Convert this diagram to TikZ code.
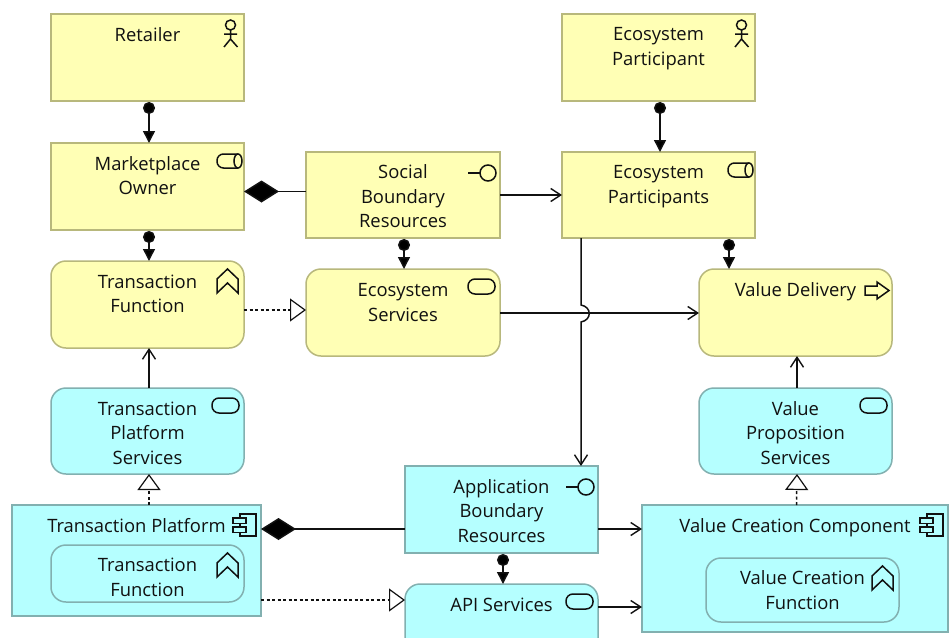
\documentclass[tikz,border=0pt]{standalone}
\usepackage{fontspec}
\setmainfont{Open Sans}
\usetikzlibrary{arrows.meta}
\definecolor{yfill}{HTML}{FFFFB5}
\definecolor{yline}{HTML}{B8B87C}
\definecolor{cfill}{HTML}{B5FFFF}
\definecolor{cline}{HTML}{82B0B0}
\definecolor{ink}{HTML}{111111}
\newcommand{\boxtxt}[4][14]{\begin{minipage}[c][#3pt][t]{#2pt}\vspace{#1pt}\centering\fontsize{18.4}{24.5}\selectfont #4\end{minipage}}
\newcommand{\elem}[8][13.5]{% top pad, style, name, x1,y1,x2,y2, text
  \pgfmathsetmacro{\cxx}{(#4+#6)/2}\pgfmathsetmacro{\cyy}{(#5+#7)/2}
  \pgfmathsetmacro{\www}{#6-#4}\pgfmathsetmacro{\hhh}{#7-#5}
  \node[#2] (#3) at (\cxx,\cyy) {\boxtxt[#1]{\www}{\hhh}{#8}};}
\tikzset{
  x=1pt,y=-1pt,
  base/.style={draw,line width=1.5pt,inner sep=0pt,outer sep=0pt,text=ink},
  ybox/.style={base,fill=yfill,draw=yline},
  yround/.style={ybox,rounded corners=15pt},
  cbox/.style={base,fill=cfill,draw=cline},
  cround/.style={cbox,rounded corners=15pt},
  conn/.style={draw=ink,line width=1.5pt},
  assign/.style={conn,{Circle[length=12pt,fill=black]}-{Triangle[length=12pt,width=12pt,fill=black]},shorten <=1pt},
  flow/.style={conn,-{Straight Barb[length=10pt,width=13pt,line width=1.4pt]}},
  compose/.style={conn,{Diamond[length=35pt,width=22pt,fill=black]}-},
  realize/.style={conn,dash pattern=on 3pt off 2.5pt,-{Triangle[open,fill=white,length=16pt,width=23pt,line width=1.2pt,sep=0pt]}},
  icon/.style={draw=ink,line width=1.5pt,line join=miter,fill=none},
  actoricon/.pic={
    \draw[icon] (-13.5,11) circle (5);
    \draw[icon] (-13.5,16)--(-13.5,25) (-20,20)--(-7,20) (-20,33)--(-13.5,25)--(-6.5,33);},
  roleicon/.pic={
    \draw[icon,rounded corners=6.5pt] (-6,11)--(-27,11)--(-27,25)--(-6,25);
    \draw[icon] (-6,18) ellipse (4 and 7);},
  ifaceicon/.pic={
    \draw[icon] (-12,21) circle (8);
    \draw[icon] (-32,21)--(-20,21);},
  serviceicon/.pic={
    \draw[icon,rounded corners=7pt] (-32,10) rectangle (-5,25);},
  funcicon/.pic={
    \draw[icon] (-27,18)--(-16.5,8)--(-6,18)--(-6,32)--(-16.5,22)--(-27,32)--cycle;},
  processicon/.pic={
    \draw[icon] (-27,17)--(-15,17)--(-15,13)--(-3,21.5)--(-15,30)--(-15,26)--(-27,26)--cycle;},
  componenticon/.pic={
    \draw[icon] (-21,9) rectangle (-5,31);
    \draw[icon,fill=cfill] (-28,13) rectangle (-15,18.5);
    \draw[icon,fill=cfill] (-28,22) rectangle (-15,27.5);},
}
\begin{document}
\begin{tikzpicture}
\fill[white] (0,0) rectangle (950,637);
\clip (0,0) rectangle (950,637);
\elem{ybox}{retailer}{51}{14}{244}{101}{Retailer}
\elem{ybox}{owner}{51}{143}{244}{230}{Marketplace\\Owner}
\elem{yround}{tfunc}{51}{261}{244}{348}{Transaction\\Function}
\elem[13]{ybox}{social}{306}{152}{500}{238}{Social\\Boundary\\Resources}
\elem[14.5]{yround}{ecoserv}{306}{269}{500}{356}{Ecosystem\\Services}
\elem{ybox}{participant}{562}{14}{755}{101}{Ecosystem\\Participant}
\elem[13.5]{ybox}{participants}{562}{152}{755}{238}{Ecosystem\\Participants}
\elem{yround}{delivery}{699}{269}{892}{356}{Value Delivery}
\elem{cround}{tpserv}{51}{388}{244}{474}{Transaction\\Platform\\Services}
\elem{cround}{vpserv}{699}{388}{892}{474}{Value\\Proposition\\Services}
\elem{cbox}{tplat}{12}{505}{261}{616}{Transaction Platform}
\elem[13]{cround}{tfuncin}{51}{545}{244}{602}{Transaction\\Function}
\elem{cbox}{appres}{405}{466}{598}{553}{Application\\Boundary\\Resources}
\elem{cround}{api}{405}{584}{598}{671}{API Services}
\elem{cbox}{vcc}{642}{505}{948}{632}{Value Creation Component}
\elem[13]{cround}{vcfunc}{706}{558}{899}{622}{Value Creation\\Function}

\pic at (retailer.north east) {actoricon};
\pic at (participant.north east) {actoricon};
\pic at (owner.north east) {roleicon};
\pic at (participants.north east) {roleicon};
\pic at (social.north east) {ifaceicon};
\pic at (appres.north east) {ifaceicon};
\pic at (ecoserv.north east) {serviceicon};
\pic at (tpserv.north east) {serviceicon};
\pic at (vpserv.north east) {serviceicon};
\pic at (api.north east) {serviceicon};
\pic at (tfunc.north east) {funcicon};
\pic at (tfuncin.north east) {funcicon};
\pic at (vcfunc.north east) {funcicon};
\pic at (delivery.north east) {processicon};
\pic at (tplat.north east) {componenticon};
\pic at (vcc.north east) {componenticon};

\draw[assign] ([xshift=1.5pt]retailer.south) -- ([xshift=1.5pt]owner.north);
\draw[assign] ([xshift=1.5pt]owner.south) -- ([xshift=1.5pt]tfunc.north);
\draw[assign] ([xshift=1pt]social.south) -- ([xshift=1pt]ecoserv.north);
\draw[assign] ([xshift=1.5pt]participant.south) -- ([xshift=1.5pt]participants.north);
\path (participants.south) ++(70.5,0) coordinate (a1);
\path (delivery.north) ++(-66.5,0) coordinate (a2);
\draw[assign] (a1) -- (a2);
\draw[assign] ([xshift=1.5pt]appres.south) -- ([xshift=1.5pt]api.north);

\draw[compose] (owner.east |- 0,191.5) -- (social.west |- 0,191.5);
\draw[compose] (tplat.east |- 0,529) -- (appres.west |- 0,529);

\draw[flow] (social.east |- 0,195) -- (participants.west |- 0,195);
\draw[flow] (ecoserv.east |- 0,313) -- (delivery.west |- 0,313);
\draw[flow] ([xshift=1.5pt]tpserv.north) -- ([xshift=1.5pt]tfunc.south);
\draw[flow] ([xshift=1.5pt]vpserv.north) -- ([xshift=1.5pt]delivery.south);
\draw[flow] (appres.east |- 0,529) -- (vcc.west |- 0,529);
\draw[flow] (api.east |- 0,607) -- (vcc.west |- 0,607);

\coordinate (jumpA) at (581,305);
\coordinate (jumpB) at (581,322);
\draw[flow] ([xshift=-77.5pt]participants.south) -- (jumpA)
  .. controls (592,307) and (592,320) .. (jumpB) -- ([xshift=79.5pt]appres.north);

\draw[realize] (tfunc.east |- 0,310) -- (ecoserv.west |- 0,310);
\draw[realize] ([xshift=1.5pt]tpserv.south |- tplat.north) -- ([xshift=1.5pt]tpserv.south);
\draw[realize] ([xshift=1.5pt]vcc.north) -- ([xshift=1.5pt]vpserv.south);
\draw[realize] (tplat.east |- 0,600) -- (api.west |- 0,600);
\end{tikzpicture}
\end{document}
